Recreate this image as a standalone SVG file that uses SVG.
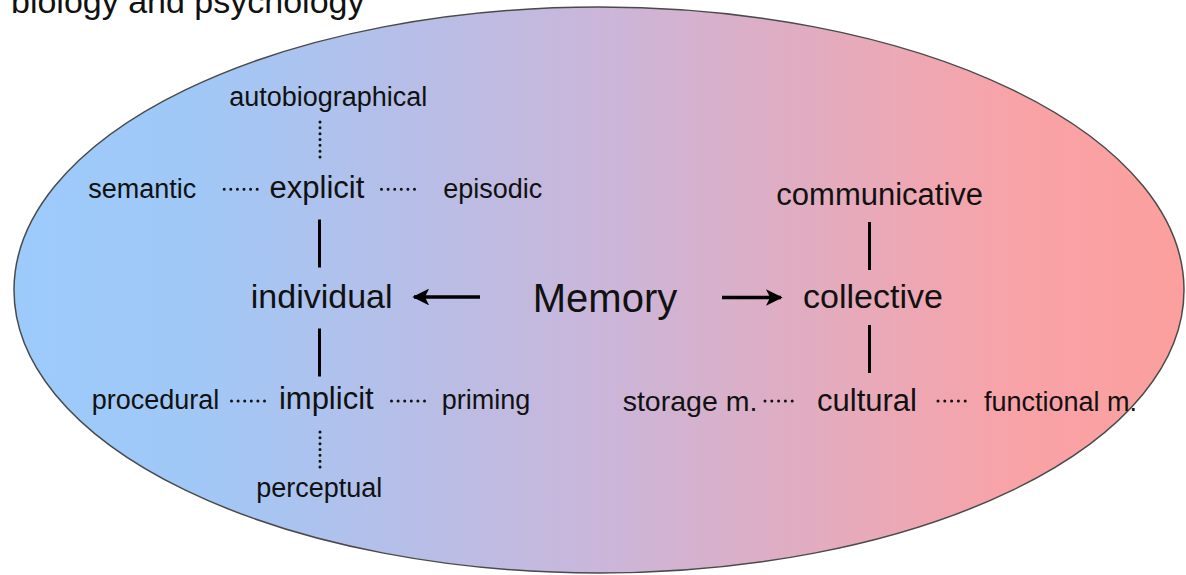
<svg xmlns="http://www.w3.org/2000/svg" width="1186" height="575" viewBox="0 0 1186 575">
<defs>
<linearGradient id="bg" gradientUnits="userSpaceOnUse" x1="14" y1="0" x2="1184" y2="0">
<stop offset="0" stop-color="#9ccbfb"/>
<stop offset="0.15" stop-color="#a0c8f7"/>
<stop offset="0.5" stop-color="#cab6da"/>
<stop offset="0.85" stop-color="#f8a3a8"/>
<stop offset="1" stop-color="#fc9f9e"/>
</linearGradient>
<marker id="ah" viewBox="0 0 10 10" refX="9" refY="5" markerWidth="4.8" markerHeight="4.8" orient="auto" markerUnits="strokeWidth">
<path d="M0,0 L10,5 L0,10 L2.5,5 Z" fill="#000"/>
</marker>
<style>
text{font-family:"Liberation Sans",Arial,sans-serif;fill:#111;}
.s{font-size:27px;}
.m{font-size:31px;}
.l{font-size:34px;}
.c{text-anchor:middle;}
.solid{stroke:#000;stroke-width:3;fill:none;}
.dot{stroke:#111;stroke-width:3;stroke-linecap:round;fill:none;}
.arr{stroke:#000;stroke-width:3.5;fill:none;marker-end:url(#ah);}
</style>
</defs>
<rect width="1186" height="575" fill="#fff"/>
<text x="11" y="13" style="font-size:34px">biology and psychology</text>
<ellipse id="memory-area" cx="599" cy="290" rx="585" ry="283" fill="url(#bg)" stroke="#4a4a4a" stroke-width="1.5"/>
<g id="connectors">
<line class="dot" x1="320" y1="122" x2="320" y2="157" stroke-dasharray="0 5.83"/>
<line class="dot" x1="224.2" y1="189.3" x2="257.2" y2="189.3" stroke-dasharray="0 6.6"/>
<line class="dot" x1="381.5" y1="189.3" x2="414.5" y2="189.3" stroke-dasharray="0 6.6"/>
<line class="solid" x1="319.5" y1="219.5" x2="319.5" y2="267.5"/>
<line class="solid" x1="319.5" y1="328.5" x2="319.5" y2="376.5"/>
<line class="dot" x1="231.5" y1="401" x2="264.5" y2="401" stroke-dasharray="0 6.6"/>
<line class="dot" x1="391.5" y1="401" x2="424.5" y2="401" stroke-dasharray="0 6.6"/>
<line class="dot" x1="320" y1="432" x2="320" y2="467" stroke-dasharray="0 5.83"/>
<line class="arr" x1="480" y1="297" x2="414" y2="297"/>
<line class="arr" x1="722" y1="297.5" x2="781" y2="297.5"/>
<line class="solid" x1="869.5" y1="222" x2="869.5" y2="270"/>
<line class="solid" x1="869.5" y1="325" x2="869.5" y2="373"/>
<line class="dot" x1="765" y1="401" x2="799" y2="401" stroke-width="2.5" stroke-dasharray="0 6.8"/>
<line class="dot" x1="938" y1="401" x2="972" y2="401" stroke-width="2.5" stroke-dasharray="0 6.8"/>
</g>
<g id="node-memory"><text class="c" x="605" y="312" style="font-size:40px">Memory</text></g>
<g id="node-individual"><text class="l c" x="321.7" y="308.3">individual</text></g>
<g id="node-explicit"><text class="m c" x="317" y="197.7">explicit</text></g>
<g id="node-autobiographical"><text class="s c" x="328.3" y="106">autobiographical</text></g>
<g id="node-semantic"><text class="s" x="88.3" y="197.7">semantic</text></g>
<g id="node-episodic"><text class="s" x="443.3" y="197.7">episodic</text></g>
<g id="node-implicit"><text class="m c" x="326.3" y="409.3">implicit</text></g>
<g id="node-procedural"><text class="s" x="91.7" y="409.3">procedural</text></g>
<g id="node-priming"><text class="s" x="441.7" y="409.3">priming</text></g>
<g id="node-perceptual"><text class="s c" x="319.2" y="497">perceptual</text></g>
<g id="node-collective"><text class="l c" x="873" y="308">collective</text></g>
<g id="node-communicative"><text class="m c" x="879.7" y="205">communicative</text></g>
<g id="node-cultural"><text class="m c" x="867" y="410.7">cultural</text></g>
<g id="node-storage"><text class="s" x="622.7" y="410.7" style="font-size:28.5px">storage m.</text></g>
<g id="node-functional"><text class="s" x="984" y="410.7">functional m.</text></g>
</svg>
